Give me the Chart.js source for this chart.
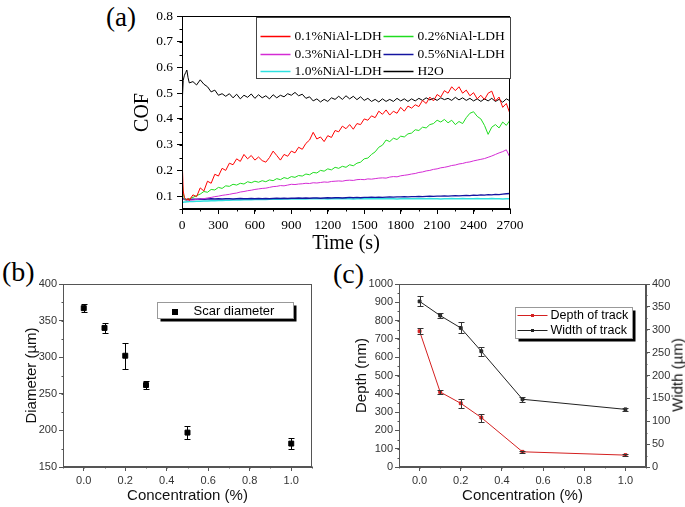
<!DOCTYPE html>
<html>
<head>
<meta charset="utf-8">
<script src="https://cdn.jsdelivr.net/npm/chart.js@4"></script>
<style>
  body { margin: 0; background: #fff; }
  #wrap { position: relative; width: 685px; height: 507px; overflow: hidden; }
  canvas { position: absolute; }
  .tag { position: absolute; font-family: "Liberation Serif", serif; color: #000; line-height: 1; }
  .vt { position: absolute; font-family: "Liberation Sans", Arial, sans-serif; font-size: 15px; color: #111;
        white-space: nowrap; transform: translate(-50%, -50%) rotate(-90deg); }
</style>
</head>
<body>
<div id="wrap">
  <div class="tag" style="left:106px;top:4px;font-size:27px">(a)</div>
  <div class="tag" style="left:2px;top:258px;font-size:28px">(b)</div>
  <div class="tag" style="left:333px;top:260px;font-size:28px">(c)</div>
  <canvas id="cofChart" width="420" height="256" style="left:131px;top:0"></canvas>
  <canvas id="scarChart" width="307" height="243" style="left:23px;top:262px"></canvas>
  <canvas id="trackChart" width="332" height="243" style="left:353px;top:262px"></canvas>
  <div class="vt" style="left:677px;top:375px">Width (µm)</div>
</div>
<script>
// ---- (a) friction coefficient vs time ----
const timeS = [0, 10, 20, 30, 40, 50, 60,
  90, 120, 150, 180, 210, 240, 270, 300, 330, 360,
  390, 420, 450, 480, 510, 540, 570, 600, 630, 660,
  690, 720, 750, 780, 810, 840, 870, 900, 930, 960,
  990, 1020, 1050, 1080, 1110, 1140, 1170, 1200, 1230, 1260,
  1290, 1320, 1350, 1380, 1410, 1440, 1470, 1500, 1530, 1560,
  1590, 1620, 1650, 1680, 1710, 1740, 1770, 1800, 1830, 1860,
  1890, 1920, 1950, 1980, 2010, 2040, 2070, 2100, 2130, 2160,
  2190, 2220, 2250, 2280, 2310, 2340, 2370, 2400, 2430, 2460,
  2490, 2520, 2550, 2580, 2610, 2640, 2670, 2700];

const cof01 = [0.26, 0.12, 0.095, 0.09, 0.085, 0.092, 0.083,
  0.105, 0.098, 0.132, 0.12, 0.158, 0.15, 0.185, 0.178, 0.208, 0.2,
  0.228, 0.222, 0.245, 0.235, 0.262, 0.245, 0.258, 0.24, 0.252, 0.238,
  0.232, 0.25, 0.275, 0.258, 0.24, 0.262, 0.255, 0.275, 0.268, 0.29,
  0.282, 0.305, 0.318, 0.348, 0.322, 0.33, 0.312, 0.335, 0.328, 0.355,
  0.35, 0.372, 0.362, 0.378, 0.36, 0.382, 0.378, 0.4, 0.395, 0.412,
  0.405, 0.43, 0.418, 0.435, 0.415, 0.43, 0.422, 0.445, 0.43, 0.45,
  0.442, 0.455, 0.448, 0.472, 0.46, 0.485, 0.47, 0.495, 0.485, 0.51,
  0.5, 0.525, 0.51, 0.525, 0.5, 0.512, 0.49, 0.502, 0.478, 0.492,
  0.475, 0.5, 0.508, 0.47, 0.485, 0.445, 0.46, 0.42];

const cof02 = [0.17, 0.11, 0.09, 0.085, 0.085, 0.088, 0.09,
  0.095, 0.102, 0.108, 0.118, 0.115, 0.126, 0.124, 0.134, 0.13, 0.14,
  0.138, 0.146, 0.143, 0.15, 0.147, 0.156, 0.152, 0.158, 0.154, 0.16,
  0.156, 0.163, 0.16, 0.168, 0.164, 0.172, 0.168, 0.176, 0.173, 0.18,
  0.178, 0.186, 0.183, 0.192, 0.19, 0.2, 0.197, 0.206, 0.202, 0.212,
  0.208, 0.216, 0.212, 0.222, 0.218, 0.228, 0.232, 0.245, 0.248, 0.262,
  0.272, 0.29, 0.298, 0.318, 0.312, 0.325, 0.32, 0.333, 0.33, 0.342,
  0.345, 0.358, 0.355, 0.368, 0.365, 0.378, 0.382, 0.395, 0.388, 0.398,
  0.385, 0.395, 0.378, 0.39, 0.382, 0.405, 0.422, 0.428, 0.41, 0.4,
  0.375, 0.34, 0.368, 0.378, 0.365, 0.388, 0.375, 0.395];

const cof03 = [0.1, 0.09, 0.086, 0.085, 0.084, 0.085, 0.085,
  0.085, 0.087, 0.089, 0.09, 0.093, 0.095, 0.098, 0.1, 0.103, 0.105,
  0.107, 0.11, 0.112, 0.116, 0.118, 0.121, 0.123, 0.126, 0.128, 0.13,
  0.131, 0.134, 0.137, 0.138, 0.141, 0.14, 0.143, 0.146, 0.145, 0.147,
  0.148, 0.15, 0.149, 0.152, 0.151, 0.153, 0.155, 0.154, 0.157, 0.158,
  0.159, 0.158, 0.161, 0.162, 0.161, 0.164, 0.165, 0.164, 0.167, 0.166,
  0.168, 0.17, 0.171, 0.17, 0.174, 0.176, 0.175, 0.179, 0.181, 0.183,
  0.186, 0.188, 0.192, 0.194, 0.198, 0.2, 0.204, 0.206, 0.21, 0.212,
  0.215, 0.219, 0.221, 0.225, 0.227, 0.231, 0.233, 0.237, 0.24, 0.243,
  0.246, 0.251, 0.256, 0.262, 0.268, 0.273, 0.28, 0.25];

const cof05 = [0.095, 0.09, 0.088, 0.087, 0.087, 0.087, 0.087,
  0.088, 0.088, 0.089, 0.088, 0.089, 0.09, 0.089, 0.09, 0.089, 0.09,
  0.09, 0.089, 0.09, 0.091, 0.09, 0.09, 0.091, 0.09, 0.091, 0.09,
  0.091, 0.09, 0.091, 0.092, 0.091, 0.092, 0.091, 0.092, 0.092, 0.093,
  0.092, 0.093, 0.092, 0.093, 0.093, 0.092, 0.093, 0.094, 0.093, 0.094,
  0.094, 0.093, 0.094, 0.095, 0.094, 0.095, 0.094, 0.095, 0.095, 0.096,
  0.095, 0.096, 0.095, 0.096, 0.097, 0.096, 0.097, 0.097, 0.098, 0.097,
  0.098, 0.098, 0.099, 0.098, 0.099, 0.1, 0.099, 0.1, 0.1, 0.101,
  0.1, 0.101, 0.102, 0.101, 0.102, 0.103, 0.102, 0.104, 0.103, 0.105,
  0.104, 0.106, 0.105, 0.107, 0.106, 0.108, 0.109, 0.11];

const cof10 = [0.075, 0.076, 0.077, 0.077, 0.078, 0.078, 0.079,
  0.079, 0.08, 0.08, 0.081, 0.081, 0.082, 0.082, 0.083, 0.083, 0.084,
  0.084, 0.085, 0.085, 0.085, 0.086, 0.086, 0.086, 0.087, 0.087, 0.087,
  0.087, 0.088, 0.088, 0.088, 0.088, 0.089, 0.089, 0.089, 0.089, 0.089,
  0.09, 0.089, 0.09, 0.09, 0.091, 0.09, 0.09, 0.089, 0.09, 0.09,
  0.09, 0.091, 0.09, 0.09, 0.089, 0.09, 0.091, 0.09, 0.09, 0.09,
  0.091, 0.09, 0.09, 0.091, 0.09, 0.09, 0.089, 0.09, 0.091, 0.09,
  0.09, 0.09, 0.091, 0.09, 0.09, 0.091, 0.09, 0.09, 0.089, 0.09,
  0.09, 0.091, 0.09, 0.09, 0.091, 0.09, 0.09, 0.09, 0.091, 0.09,
  0.09, 0.09, 0.091, 0.09, 0.09, 0.089, 0.09, 0.09];

const cofH2O = [0.45, 0.55, 0.57, 0.58, 0.59, 0.56, 0.54,
  0.545, 0.532, 0.552, 0.535, 0.525, 0.505, 0.512, 0.492, 0.498, 0.488,
  0.498, 0.482, 0.496, 0.478, 0.492, 0.484, 0.497, 0.48, 0.494, 0.482,
  0.49, 0.478, 0.494, 0.482, 0.492, 0.486, 0.498, 0.492, 0.503, 0.49,
  0.496, 0.48, 0.486, 0.47, 0.478, 0.466, 0.476, 0.468, 0.482, 0.476,
  0.488, 0.476, 0.49, 0.478, 0.488, 0.475, 0.486, 0.472, 0.48, 0.468,
  0.476, 0.466, 0.478, 0.468, 0.476, 0.468, 0.48, 0.47, 0.478, 0.468,
  0.478, 0.47, 0.48, 0.472, 0.482, 0.474, 0.48, 0.472, 0.482, 0.475,
  0.48, 0.472, 0.484, 0.474, 0.482, 0.472, 0.48, 0.47, 0.478, 0.468,
  0.478, 0.47, 0.48, 0.468, 0.476, 0.465, 0.478, 0.47];

const cofTicks = [0.1, 0.2, 0.3, 0.4, 0.5, 0.6, 0.7, 0.8];
const timeTicks = [0, 300, 600, 900, 1200, 1500, 1800, 2100, 2400, 2700];

// ---- (b) and (c) wear scar data ----
const conc = [0, 0.1, 0.2, 0.3, 0.5, 1.0];
const scarDiam = [367, 340, 302, 262, 197, 182];
const scarErr = [5, 7, 18, 5, 9, 7];
const depthNm = [742, 410, 348, 270, 83, 65];
const depthErr = [15, 11, 24, 22, 7, 5];
const widthUm = [362, 331, 304, 253, 148, 126];
const widthErr = [11, 5, 12, 10, 6, 4];

const concTicks = [0, 0.2, 0.4, 0.6, 0.8, 1.0];
const diamTicks = [150, 200, 250, 300, 350, 400];
const depthTicks = [0, 100, 200, 300, 400, 500, 600, 700, 800, 900, 1000];
const widthTicks = [0, 50, 100, 150, 200, 250, 300, 350, 400];

const SERIF = "'Liberation Serif', 'Times New Roman', serif";
const SANS = "'Liberation Sans', Arial, sans-serif";

// box around plot + minor ticks
const framePlugin = {
  id: "frame",
  afterDraw(chart, args, o) {
    const { ctx, chartArea: a } = chart;
    ctx.save();
    ctx.strokeStyle = o.color || "#000";
    ctx.lineWidth = 1;
    const l = Math.round(a.left) + 0.5, t = Math.round(a.top) + 0.5;
    const r = Math.round(a.right) - 0.5, b = Math.round(a.bottom) - 0.5;
    ctx.strokeRect(l, t, r - l, b - t);
    (o.minor || []).forEach(m => {
      const s = chart.scales[m.axis];
      const n = Math.round((s.max - s.min) / m.step);
      for (let k = 0; k <= n; k++) {
        const p = Math.round(s.getPixelForValue(s.min + k * m.step)) + 0.5;
        ctx.beginPath();
        if (m.axis === "x") { ctx.moveTo(p, b); ctx.lineTo(p, b + m.len); }
        else if (s.position === "right") { ctx.moveTo(r, p); ctx.lineTo(r + m.len, p); }
        else { ctx.moveTo(l, p); ctx.lineTo(l - m.len, p); }
        ctx.stroke();
      }
    });
    ctx.restore();
  }
};

// vertical error bars read from dataset.errorBars
const errorBarPlugin = {
  id: "errorBars",
  afterDatasetsDraw(chart, args, o) {
    const ctx = chart.ctx;
    chart.data.datasets.forEach((ds, i) => {
      if (!ds.errorBars) return;
      const meta = chart.getDatasetMeta(i);
      const ys = chart.scales[meta.yAxisID];
      ctx.save();
      ctx.strokeStyle = o.color || ds.borderColor;
      ctx.lineWidth = 1;
      meta.data.forEach((pt, j) => {
        const v = ds.data[j].y, e = ds.errorBars[j];
        const y0 = Math.round(ys.getPixelForValue(v - e)) + 0.5;
        const y1 = Math.round(ys.getPixelForValue(v + e)) + 0.5;
        const x = Math.round(pt.x) + 0.5, c = o.cap || 3;
        ctx.beginPath();
        ctx.moveTo(x, y0); ctx.lineTo(x, y1);
        ctx.moveTo(x - c, y0); ctx.lineTo(x + c, y0);
        ctx.moveTo(x - c, y1); ctx.lineTo(x + c, y1);
        ctx.stroke();
      });
      ctx.restore();
    });
  }
};

// legend drawn inside the plot
const boxLegendPlugin = {
  id: "boxLegend",
  afterDraw(chart, args, o) {
    if (!o.order) return;
    const { ctx, chartArea: a } = chart;
    const bx = Math.round(a.left + o.x) + 0.5, by = Math.round(a.top + o.y) + 0.5;
    ctx.save();
    if (o.shadow) { ctx.fillStyle = "#000"; ctx.fillRect(bx + o.shadow, by + o.shadow, o.w, o.h); }
    ctx.fillStyle = "#fff";
    ctx.fillRect(bx, by, o.w, o.h);
    ctx.strokeStyle = o.border;
    ctx.lineWidth = 1;
    ctx.strokeRect(bx, by, o.w, o.h);
    ctx.font = o.font;
    ctx.textBaseline = "middle";
    o.order.forEach((di, k) => {
      const ds = chart.data.datasets[di];
      const x0 = bx + o.colX[k % o.colX.length];
      const y = by + o.rowY[Math.floor(k / o.colX.length)];
      if (o.line) {
        ctx.strokeStyle = ds.borderColor;
        ctx.lineWidth = o.lineWidth;
        ctx.beginPath(); ctx.moveTo(x0, y); ctx.lineTo(x0 + o.lineLen, y); ctx.stroke();
      }
      if (o.marker) {
        ctx.fillStyle = ds.borderColor;
        ctx.fillRect(Math.round(x0 + o.lineLen / 2 - o.marker / 2), Math.round(y - o.marker / 2), o.marker, o.marker);
      }
      ctx.fillStyle = "#000";
      ctx.fillText(ds.label, x0 + o.lineLen + o.gap, y);
    });
    ctx.restore();
  }
};

Chart.register(framePlugin, errorBarPlugin, boxLegendPlugin);

function setTicks(list) {
  return scale => { scale.ticks = list.map(v => ({ value: v })); };
}
function xy(xs, ys) {
  return xs.map((x, i) => ({ x: x, y: ys[i] }));
}
function axisLook(color, len) {
  return {
    grid: { display: true, drawOnChartArea: false, drawTicks: true, tickLength: len, color: color },
    border: { display: true, color: color, width: 1 }
  };
}

// ---------- (a) ----------
function cofLine(label, ys, color, w) {
  return { label: label, data: xy(timeS, ys), borderColor: color, backgroundColor: color,
           borderWidth: w || 1, pointRadius: 0, tension: 0 };
}

new Chart(document.getElementById("cofChart"), {
  type: "line",
  data: {
    datasets: [
      cofLine("0.1%NiAl-LDH", cof01, "#ff0000"),
      cofLine("0.2%NiAl-LDH", cof02, "#1fdc1f"),
      cofLine("0.3%NiAl-LDH", cof03, "#d42bd4"),
      cofLine("0.5%NiAl-LDH", cof05, "#1414a0", 1.4),
      cofLine("1.0%NiAl-LDH", cof10, "#2ee0e0", 1.6),
      cofLine("H2O", cofH2O, "#000000")
    ]
  },
  options: {
    responsive: false, animation: false, devicePixelRatio: 1,
    layout: { padding: { top: 16, right: 41, left: 0, bottom: 0 } },
    plugins: {
      legend: { display: false }, tooltip: { enabled: false },
      frame: { color: "#000", minor: [{ axis: "x", step: 150, len: 3 }, { axis: "y", step: 0.05, len: 3 }] },
      boxLegend: {
        order: [0, 1, 2, 3, 4, 5], x: 74, y: 1, w: 254, h: 61, border: "#444",
        colX: [4, 127], rowY: [19, 37, 54], line: true, lineLen: 30, lineWidth: 1.5, gap: 4,
        font: "13.5px " + SERIF
      }
    },
    scales: {
      x: {
        type: "linear", min: 0, max: 2700,
        afterBuildTicks: setTicks(timeTicks),
        afterFit(s) { s.height = 47; },
        ticks: { autoSkip: false, maxRotation: 0, padding: 3, color: "#000",
                 font: { family: SERIF, size: 13.5 }, callback: v => String(v) },
        title: { display: true, text: "Time (s)", color: "#000", padding: 0,
                 font: { family: SERIF, size: 20 } },
        ...axisLook("#000", 5)
      },
      y: {
        min: 0.05, max: 0.8,
        afterBuildTicks: setTicks(cofTicks),
        afterFit(s) { s.width = 51; },
        ticks: { padding: 4, color: "#000", font: { family: SERIF, size: 13.5 },
                 callback: v => v.toFixed(1) },
        title: { display: true, text: "COF", color: "#000", padding: 0,
                 font: { family: SERIF, size: 20 } },
        ...axisLook("#000", 5)
      }
    }
  }
});

// ---------- (b) ----------
new Chart(document.getElementById("scarChart"), {
  type: "scatter",
  data: {
    datasets: [{
      label: "Scar diameter", data: xy(conc, scarDiam), errorBars: scarErr,
      borderColor: "#000", backgroundColor: "#000", pointStyle: "rect", pointRadius: 3.5
    }]
  },
  options: {
    responsive: false, animation: false, devicePixelRatio: 1,
    layout: { padding: { top: 22, right: 18, left: 0, bottom: 0 } },
    plugins: {
      legend: { display: false }, tooltip: { enabled: false },
      errorBars: { color: "#000", cap: 3 },
      frame: { color: "#555", minor: [{ axis: "x", step: 0.1, len: 2 }, { axis: "y", step: 25, len: 2 }] },
      boxLegend: {
        order: [0], x: 94, y: 18, w: 136, h: 16, border: "#999", shadow: 3,
        colX: [10], rowY: [9], line: false, marker: 6, lineLen: 14, gap: 12,
        font: "13px " + SANS
      }
    },
    scales: {
      x: {
        type: "linear", min: -0.1, max: 1.1,
        afterBuildTicks: setTicks(concTicks),
        afterFit(s) { s.height = 38; },
        ticks: { autoSkip: false, maxRotation: 0, padding: 3, color: "#333",
                 font: { family: SANS, size: 11 }, callback: v => v.toFixed(1) },
        title: { display: true, text: "Concentration (%)", color: "#111", padding: 0,
                 font: { family: SANS, size: 15 } },
        ...axisLook("#555", 4)
      },
      y: {
        min: 150, max: 400,
        afterBuildTicks: setTicks(diamTicks),
        afterFit(s) { s.width = 40; },
        ticks: { padding: 2, color: "#333", font: { family: SANS, size: 11 }, callback: v => String(v) },
        title: { display: true, text: "Diameter (µm)", color: "#111", padding: 0,
                 font: { family: SANS, size: 15 } },
        ...axisLook("#555", 4)
      }
    }
  }
});

// ---------- (c) ----------
new Chart(document.getElementById("trackChart"), {
  type: "line",
  data: {
    datasets: [
      { label: "Depth of track", data: xy(conc, depthNm), errorBars: depthErr, yAxisID: "y",
        borderColor: "#d42020", backgroundColor: "#d42020", borderWidth: 1,
        pointStyle: "rect", pointRadius: 2, tension: 0 },
      { label: "Width of track", data: xy(conc, widthUm), errorBars: widthErr, yAxisID: "y1",
        borderColor: "#222", backgroundColor: "#222", borderWidth: 1,
        pointStyle: "rect", pointRadius: 2, tension: 0 }
    ]
  },
  options: {
    responsive: false, animation: false, devicePixelRatio: 1,
    layout: { padding: { top: 22, right: 0, left: 0, bottom: 0 } },
    plugins: {
      legend: { display: false }, tooltip: { enabled: false },
      errorBars: { color: "#333", cap: 3 },
      frame: { color: "#555", minor: [{ axis: "x", step: 0.1, len: 2 }, { axis: "y", step: 50, len: 2 },
                                      { axis: "y1", step: 25, len: 2 }] },
      boxLegend: {
        order: [0, 1], x: 116, y: 23, w: 117, h: 31, border: "#999", shadow: 3,
        colX: [2], rowY: [8, 23], line: true, lineLen: 30, lineWidth: 1, marker: 3, gap: 3,
        font: "12.5px " + SANS
      }
    },
    scales: {
      x: {
        type: "linear", min: -0.1, max: 1.1,
        afterBuildTicks: setTicks(concTicks),
        afterFit(s) { s.height = 38; },
        ticks: { autoSkip: false, maxRotation: 0, padding: 3, color: "#333",
                 font: { family: SANS, size: 11 }, callback: v => v.toFixed(1) },
        title: { display: true, text: "Concentration (%)", color: "#111", padding: 0,
                 font: { family: SANS, size: 15 } },
        ...axisLook("#555", 4)
      },
      y: {
        position: "left", min: 0, max: 1000,
        afterBuildTicks: setTicks(depthTicks),
        afterFit(s) { s.width = 46; },
        ticks: { padding: 2, color: "#333", font: { family: SANS, size: 11 }, callback: v => String(v) },
        title: { display: true, text: "Depth (nm)", color: "#111", padding: 0,
                 font: { family: SANS, size: 15 } },
        ...axisLook("#555", 4)
      },
      y1: {
        position: "right", min: 0, max: 400,
        afterBuildTicks: setTicks(widthTicks),
        afterFit(s) { s.width = 39; },
        ticks: { padding: 2, color: "#333", font: { family: SANS, size: 11 }, callback: v => String(v) },
        title: { display: false },
        ...axisLook("#555", 4)
      }
    }
  }
});
</script>
</body>
</html>
